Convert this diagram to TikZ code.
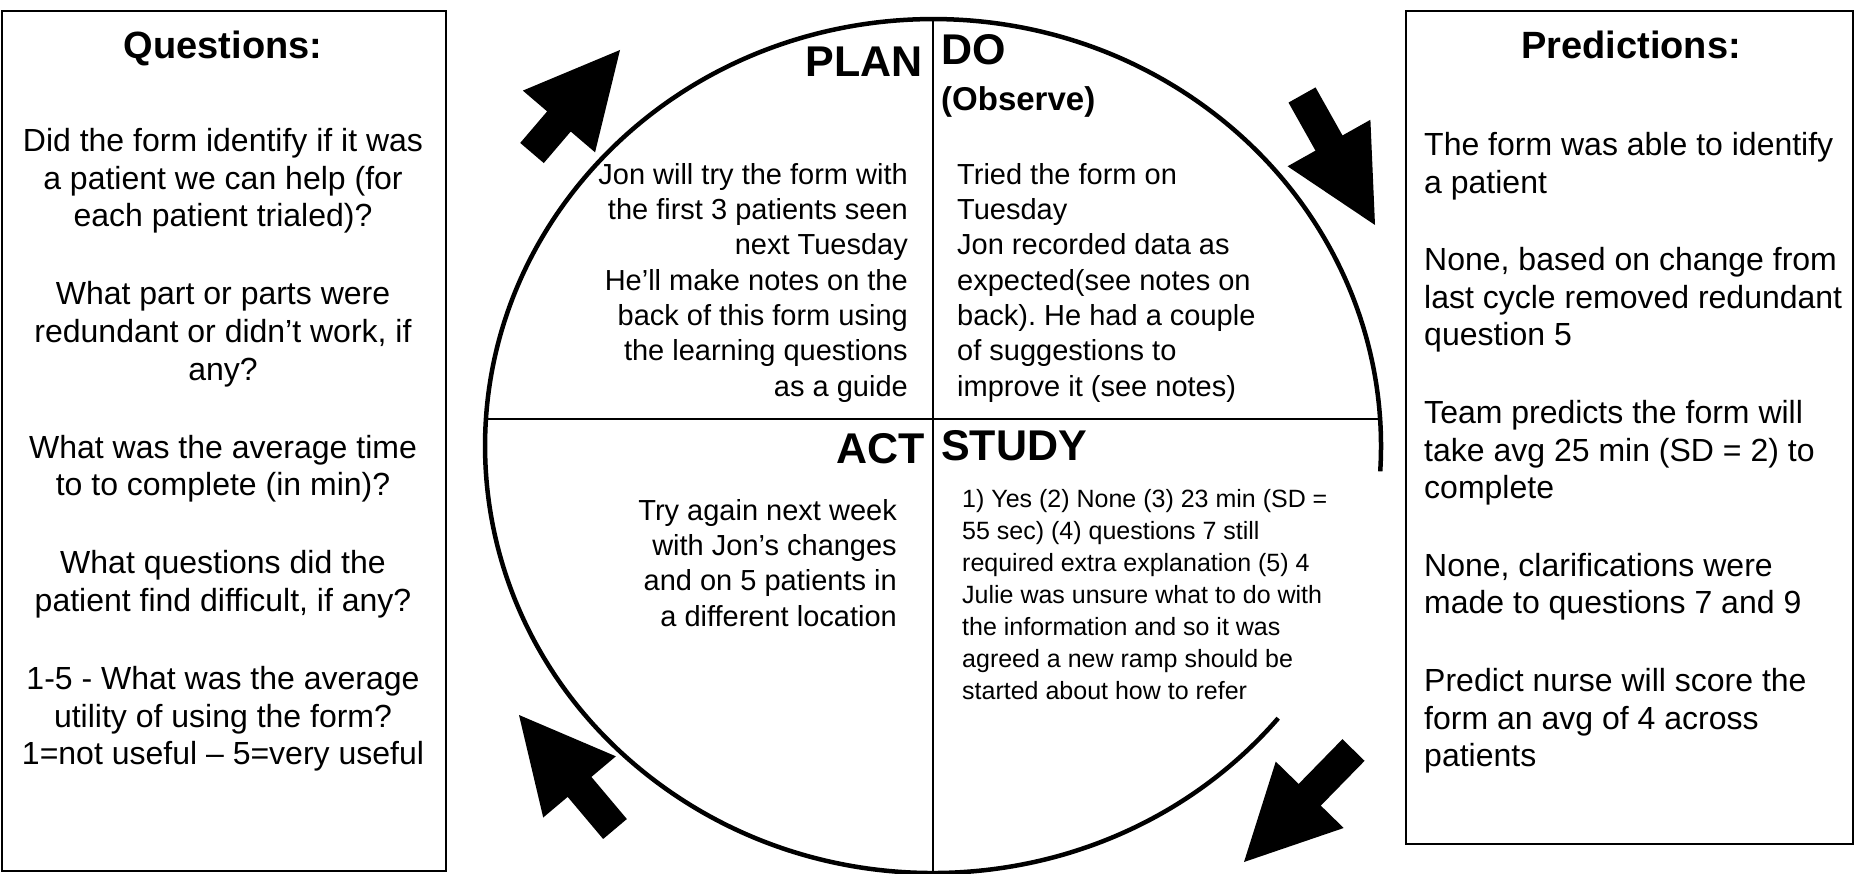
\documentclass[tikz,border=0pt]{standalone}
\usepackage{fontspec}
\setmainfont{Liberation Sans}
\usetikzlibrary{calc}
\frenchspacing
% block arrow from tail midpoint #1 to tip #2
\newcommand\drawblockarrow[2]{%
  \coordinate (#1-base) at ($(#2)!94pt!(#1)$);
  \fill ($(#1)!15.5pt!90:(#2)$) -- ($(#1-base)!15.5pt!90:(#2)$) -- ($(#1-base)!47.5pt!90:(#2)$) -- (#2)
     -- ($(#1-base)!47.5pt!-90:(#2)$) -- ($(#1-base)!15.5pt!-90:(#2)$) -- ($(#1)!15.5pt!-90:(#2)$) -- cycle;}
\tikzset{
  sidetext/.style={font=\fontsize{32}{37.8}\selectfont, inner sep=0pt},
  heading/.style={font=\bfseries\fontsize{38}{44}\selectfont, inner sep=0pt, anchor=base},
  phase/.style={font=\bfseries\fontsize{43}{50}\selectfont, inner sep=0pt},
  subphase/.style={font=\bfseries\fontsize{33}{40}\selectfont, inner sep=0pt},
  quadtext/.style={font=\fontsize{29}{35.3}\selectfont, inner sep=0pt},
  studytext/.style={font=\fontsize{25}{32}\selectfont, inner sep=0pt},
  boxframe/.style={draw, line width=2pt},
  divider/.style={line width=2pt},
  cyclearc/.style={line width=4.5pt},
}
\begin{document}
\begin{tikzpicture}[x=1pt,y=-1pt]
\fill[white] (0,0) rectangle (1854,874);
\useasboundingbox (0,0) rectangle (1854,874);

% side boxes
\draw[boxframe] (1.5,11) rectangle (446,871);
\draw[boxframe] (1406,11) rectangle (1853,844);

\node[heading] (qhead) at (223,59) {Questions:};
\node[heading] (phead) at (1631,59) {Predictions:};

\node[sidetext, anchor=north, align=center] (qtext) at (223,123) {\rule{0pt}{28pt}Did the form identify if it was\\a patient we can help (for\\each patient trialed)?\\[40pt]What part or parts were\\redundant or didn’t work, if\\any?\\[40pt]What was the average time\\to to complete (in min)?\\[40pt]What questions did the\\patient find difficult, if any?\\[40pt]1-5 - What was the average\\utility of using the form?\\1=not useful -- 5=very useful};

\node[sidetext, anchor=north west, align=left] (ptext) at (1424,127) {\rule{0pt}{28pt}The form was able to identify\\a patient\\[39.5pt]None, based on change from\\last cycle removed redundant\\question 5\\[39.5pt]Team predicts the form will\\take avg 25 min (SD = 2) to\\complete\\[39.5pt]None, clarifications were\\made to questions 7 and 9\\[39.5pt]Predict nurse will score the\\form an avg of 4 across\\patients};

% cycle
\coordinate (vtop) at (933,19);
\coordinate (vbot) at (933,874);
\coordinate (hleft) at (486,419);
\coordinate (hright) at (1380,419);
\coordinate (arcstart) at (1278.2,718.2);
\draw[cyclearc] (arcstart) arc[start angle=39.6, end angle=363.4, x radius=448, y radius=427];
\draw[divider] (vtop) -- (vbot);
\draw[divider] (hleft) -- (hright);

% phase labels
\node[phase, anchor=base east] (plan) at (923,77) {PLAN};
\node[phase, anchor=base west] (do) at (941,65) {DO};
\node[subphase, anchor=base west] (observe) at (941,111) {(Observe)};
\node[phase, anchor=base east] (act) at (925,463) {ACT};
\node[phase, anchor=base west] (study) at (941,460) {STUDY};

% quadrant texts
\node[quadtext, anchor=north east, align=right] (plantext) at (908,158) {\rule{0pt}{26pt}Jon will try the form with\\the first 3 patients seen\\next Tuesday\\He’ll make notes on the\\back of this form using\\the learning questions\\as a guide};
\node[quadtext, anchor=north west, align=left] (dotext) at (957,158) {\rule{0pt}{26pt}Tried the form on\\Tuesday\\Jon recorded data as\\expected(see notes on\\back). He had a couple\\of suggestions to\\improve it (see notes)};
\node[quadtext, anchor=north east, align=right] (acttext) at (897,494) {\rule{0pt}{26pt}Try again next week\\with Jon’s changes\\and on 5 patients in\\a different location};
\node[studytext, anchor=north west, align=left] (studytext) at (962,485) {\rule{0pt}{22pt}1) Yes (2) None (3) 23 min (SD =\\55 sec) (4) questions 7 still\\required extra explanation (5) 4\\Julie was unsure what to do with\\the information and so it was\\agreed a new ramp should be\\started about how to refer};

% block arrows
\coordinate (tlT) at (532,153); \coordinate (tlP) at (620,50);
\coordinate (trT) at (1302,95); \coordinate (trP) at (1375,225);
\coordinate (blT) at (615,829); \coordinate (blP) at (519,715);
\coordinate (brT) at (1353.5,750); \coordinate (brP) at (1244,862);
\drawblockarrow{tlT}{tlP}
\drawblockarrow{trT}{trP}
\drawblockarrow{blT}{blP}
\drawblockarrow{brT}{brP}
\end{tikzpicture}
\end{document}
